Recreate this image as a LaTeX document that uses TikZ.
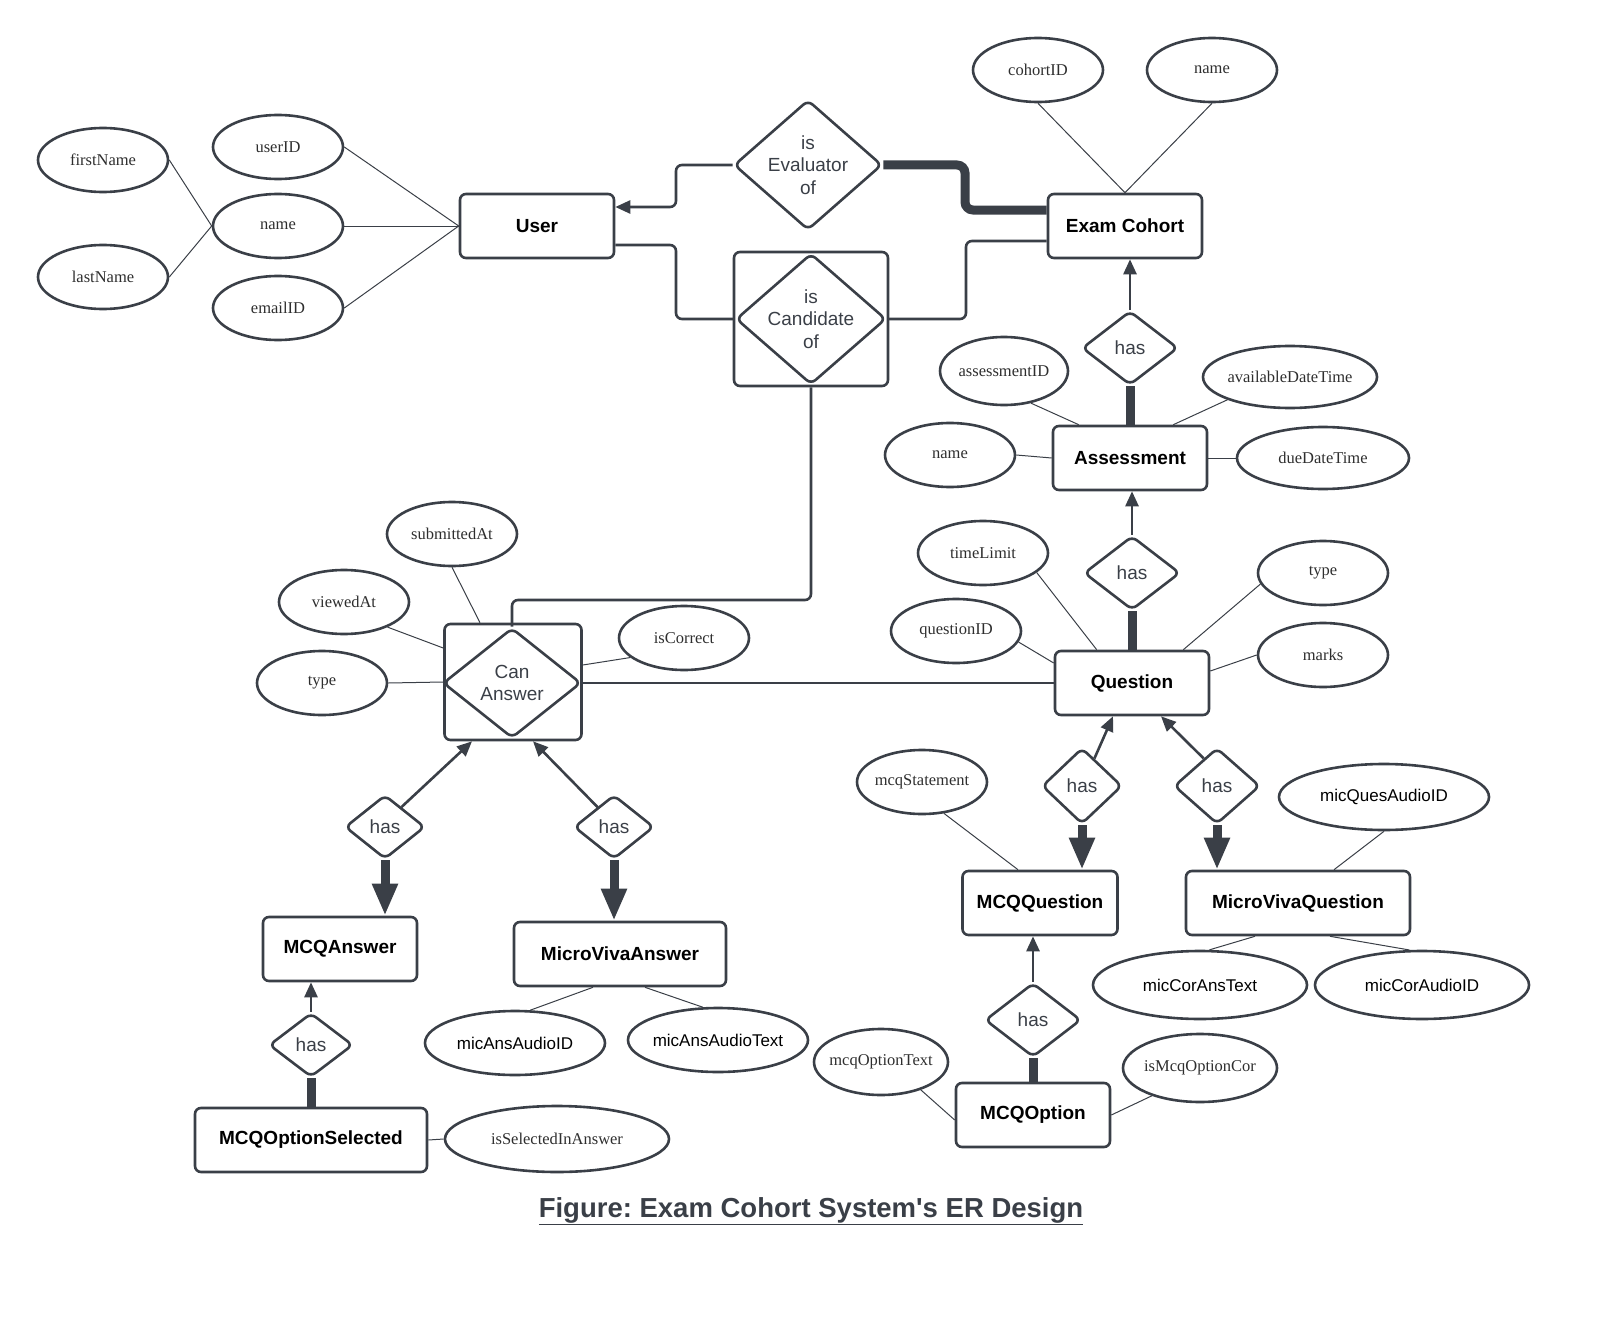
\documentclass[tikz,border=0pt]{standalone}
\usepackage{fontspec}
\setmainfont{Liberation Serif}
\setsansfont{Liberation Sans}
\usetikzlibrary{shapes.geometric,arrows.meta,calc}
\definecolor{lncol}{HTML}{3A3F47}
\definecolor{txcol}{HTML}{2E2E2E}
\frenchspacing
\tikzset{
 ent/.style={draw=lncol, line width=2.6pt, rounded corners=6pt, inner sep=0pt, font=\sffamily\bfseries\fontsize{19}{22}\selectfont, text=black},
 rel/.style={draw=lncol, line width=2.6pt, diamond, rounded corners=6pt, inner sep=0pt},
 reltext/.style={font=\sffamily\fontsize{19}{22.5}\selectfont, text=lncol, align=center},
 attr/.style={draw=lncol, line width=2.6pt, ellipse, inner sep=0pt},
 atxt/.style={font=\rmfamily\fontsize{16.5}{19}\selectfont, text=txcol},
 atxs/.style={font=\sffamily\fontsize{17}{19}\selectfont, text=black},
 aline/.style={draw=lncol, line width=1pt},
 conn/.style={draw=lncol, line width=2.6pt},
 thk/.style={draw=lncol, line width=9pt},
 arr/.style={-{Triangle[length=15pt,width=13pt]}},
 bigarr/.style={-{Triangle[length=32pt,width=24pt]}},
 ttl/.style={font=\sffamily\bfseries\fontsize{27.5}{30}\selectfont, text=lncol}
}
\newcommand\myattr[5]{\node[attr,minimum width=#3,minimum height=#4] (#1) at #2 {}; \node[atxt] at (#1) {#5};}
\newcommand\myattrs[5]{\node[attr,minimum width=#3,minimum height=#4] (#1) at #2 {}; \node[atxs] at (#1) {#5};}
\begin{document}
\begin{tikzpicture}[x=1pt,y=-1pt]
\useasboundingbox (0,0) rectangle (1620,1319);
% entities
\node[ent, minimum width=154, minimum height=64] (user) at (537,226) {User};
\node[ent, minimum width=154, minimum height=64] (ec) at (1125,226) {Exam Cohort};
\node[ent, minimum width=154, minimum height=64] (as) at (1130,458) {Assessment};
\node[ent, minimum width=154, minimum height=64] (q) at (1132,683) {Question};
\node[ent, minimum width=155, minimum height=64] (mq) at (1040,903) {MCQQuestion};
\node[ent, minimum width=224, minimum height=64] (mvq) at (1298,903) {MicroVivaQuestion};
\node[ent, minimum width=154, minimum height=64] (mo) at (1033,1115) {MCQOption};
\node[ent, minimum width=154, minimum height=64] (ma) at (340,949) {MCQAnswer};
\node[ent, minimum width=212, minimum height=64] (mva) at (620,954) {MicroVivaAnswer};
\node[ent, minimum width=232, minimum height=64] (mos) at (311,1140) {MCQOptionSelected};
% relationships
\node[rel, minimum width=148, minimum height=130] (ev) at (808,165) {};
\node[reltext] at (ev) {is\\Evaluator\\of};
\node[ent, minimum width=154, minimum height=134] (candbox) at (811,319) {};
\node[rel, minimum width=150, minimum height=131] (cand) at (811,319) {};
\node[reltext] at (cand) {is\\Candidate\\of};
\node[ent, minimum width=137, minimum height=116] (cabox) at (513,682) {};
\node[rel, minimum width=138, minimum height=110] (canans) at (512,683) {};
\node[reltext] at (canans) {Can\\Answer};
\node[rel, minimum width=96, minimum height=74] (h1) at (1130,348) {};
\node[reltext] at (h1) {has};
\node[rel, minimum width=96, minimum height=74] (h2) at (1132,573) {};
\node[reltext] at (h2) {has};
\node[rel, minimum width=80, minimum height=76] (h3) at (1082,786) {};
\node[reltext] at (h3) {has};
\node[rel, minimum width=86, minimum height=76] (h4) at (1217,786) {};
\node[reltext] at (h4) {has};
\node[rel, minimum width=96, minimum height=74] (h5) at (1033,1020) {};
\node[reltext] at (h5) {has};
\node[rel, minimum width=80, minimum height=64] (h6) at (385,827) {};
\node[reltext] at (h6) {has};
\node[rel, minimum width=80, minimum height=64] (h7) at (614,827) {};
\node[reltext] at (h7) {has};
\node[rel, minimum width=84, minimum height=64] (h8) at (311,1045) {};
\node[reltext] at (h8) {has};
% attributes
\myattr{uid}{(278,147)}{130}{64}{userID}
\myattr{uname}{(278,226)}{130}{64}{name}
\myattr{email}{(278,308)}{130}{64}{emailID}
\myattr{fn}{(103,160)}{130}{64}{firstName}
\myattr{lnm}{(103,277)}{130}{64}{lastName}
\myattr{cid}{(1038,70)}{130}{64}{cohortID}
\myattr{ecn}{(1212,70)}{130}{64}{name}
\myattr{aid}{(1004,371)}{128}{68}{assessmentID}
\myattr{adt}{(1290,377)}{174}{62}{availableDateTime}
\myattr{an}{(950,455)}{130}{64}{name}
\myattr{due}{(1323,458)}{172}{62}{dueDateTime}
\myattr{tl}{(983,553)}{130}{64}{timeLimit}
\myattr{qid}{(956,631)}{130}{64}{questionID}
\myattr{qt}{(1323,573)}{130}{64}{type}
\myattr{mk}{(1323,655)}{130}{64}{marks}
\myattr{mst}{(922,782)}{130}{64}{mcqStatement}
\myattrs{mqa}{(1384,797)}{210}{66}{micQuesAudioID}
\myattrs{mct}{(1200,985)}{214}{68}{micCorAnsText}
\myattrs{mca}{(1422,985)}{214}{68}{micCorAudioID}
\myattr{mot}{(881,1062)}{134}{66}{mcqOptionText}
\myattr{imc}{(1200,1068)}{154}{68}{isMcqOptionCor}
\myattr{isa}{(557,1139)}{224}{66}{isSelectedInAnswer}
\myattrs{maa}{(515,1043)}{180}{64}{micAnsAudioID}
\myattrs{mat}{(718,1040)}{180}{64}{micAnsAudioText}
\myattr{sub}{(452,534)}{130}{64}{submittedAt}
\myattr{vat}{(344,602)}{130}{64}{viewedAt}
\myattr{ct}{(322,683)}{130}{64}{type}
\myattr{isc}{(684,638)}{130}{64}{isCorrect}
% attribute lines
\draw[aline] (uid.east) -- (user.west);
\draw[aline] (uname.east) -- (user.west);
\draw[aline] (email.east) -- (user.west);
\draw[aline] (fn.east) -- (uname.west);
\draw[aline] (lnm.east) -- (uname.west);
\draw[aline] (cid.south) -- (ec.north);
\draw[aline] (ecn.south) -- (ec.north);
\draw[aline] (aid.-50) -- ([xshift=27]as.north west);
\draw[aline] (adt.200) -- ([xshift=-35]as.north east);
\draw[aline] (an.east) -- (as.west);
\draw[aline] (due.west) -- (as.east);
\draw[aline] (tl.-20) -- ([xshift=43]q.north west);
\draw[aline] (qid.-10) -- ([yshift=20]q.west);
\draw[aline] (qt.190) -- ([xshift=-27]q.north east);
\draw[aline] (mk.west) -- ([yshift=12]q.east);
\draw[aline] (mst.-55) -- ([xshift=-22]mq.north);
\draw[aline] (mqa.south) -- ([xshift=36]mvq.north);
\draw[aline] (mct.75) -- ([xshift=-43]mvq.south);
\draw[aline] (mca.110) -- ([xshift=32]mvq.south);
\draw[aline] (mot.-35) -- ([yshift=-5]mo.west);
\draw[aline] (imc.210) -- (mo.east);
\draw[aline] (isa.west) -- (mos.east);
\draw[aline] (maa.65) -- ([xshift=-27]mva.south);
\draw[aline] (mat.115) -- ([xshift=25]mva.south);
\draw[aline] (sub.south) -- ([xshift=-33]cabox.north);
\draw[aline] (vat.-30) -- ([yshift=34]cabox.west);
\draw[aline] (ct.east) -- (cabox.west);
\draw[aline] (isc.200) -- ([yshift=17]cabox.east);
% connectors
\draw[conn, arr, rounded corners=6pt] (ev.west) -- (676,165) |- ([yshift=19]user.east);
\draw[thk, rounded corners=8pt] (ev.east) -- (965,165) |- ([yshift=16]ec.west);
\draw[conn, rounded corners=6pt] ([yshift=-19]user.east) -- (676,245) |- (cand.west);
\draw[conn, rounded corners=6pt] (cand.east) -- (966,319) |- ([yshift=-15]ec.west);
\draw[conn, rounded corners=6pt] (candbox.south) -- (811,600) -| (canans.north);
\draw[conn] (canans.east) -- (q.west);
\draw[conn, arr] (h1.north) -- (h1.north |- ec.south);
\draw[thk] (h1.south) -- (h1.south |- as.north);
\draw[conn, arr] (h2.north) -- (h2.north |- as.south);
\draw[thk] (h2.south) -- (h2.south |- q.north);
\draw[conn, arr] ($(h3.north)!0.3!(h3.east)$) -- ([xshift=-19]q.south);
\draw[thk, bigarr] (h3.south) -- (h3.south |- mq.north);
\draw[conn, arr] ($(h4.north)!0.3!(h4.west)$) -- ([xshift=29]q.south);
\draw[thk, bigarr] (h4.south) -- (h4.south |- mvq.north);
\draw[conn, arr] (h5.north) -- (h5.north |- mq.south);
\draw[thk] (h5.south) -- (h5.south |- mo.north);
\draw[conn, arr] ($(h6.north)!0.4!(h6.east)$) -- ([xshift=-41]cabox.south);
\draw[thk, bigarr] (h6.south) -- (h6.south |- ma.north);
\draw[conn, arr] ($(h7.north)!0.4!(h7.west)$) -- ([xshift=20]cabox.south);
\draw[thk, bigarr] (h7.south) -- (h7.south |- mva.north);
\draw[conn, arr] (h8.north) -- (h8.north |- ma.south);
\draw[thk] (h8.south) -- (h8.south |- mos.north);
% title
\node[ttl] (title) at (811,1211) {\underline{Figure: Exam Cohort System\textquotesingle s ER Design}};
\end{tikzpicture}
\end{document}
